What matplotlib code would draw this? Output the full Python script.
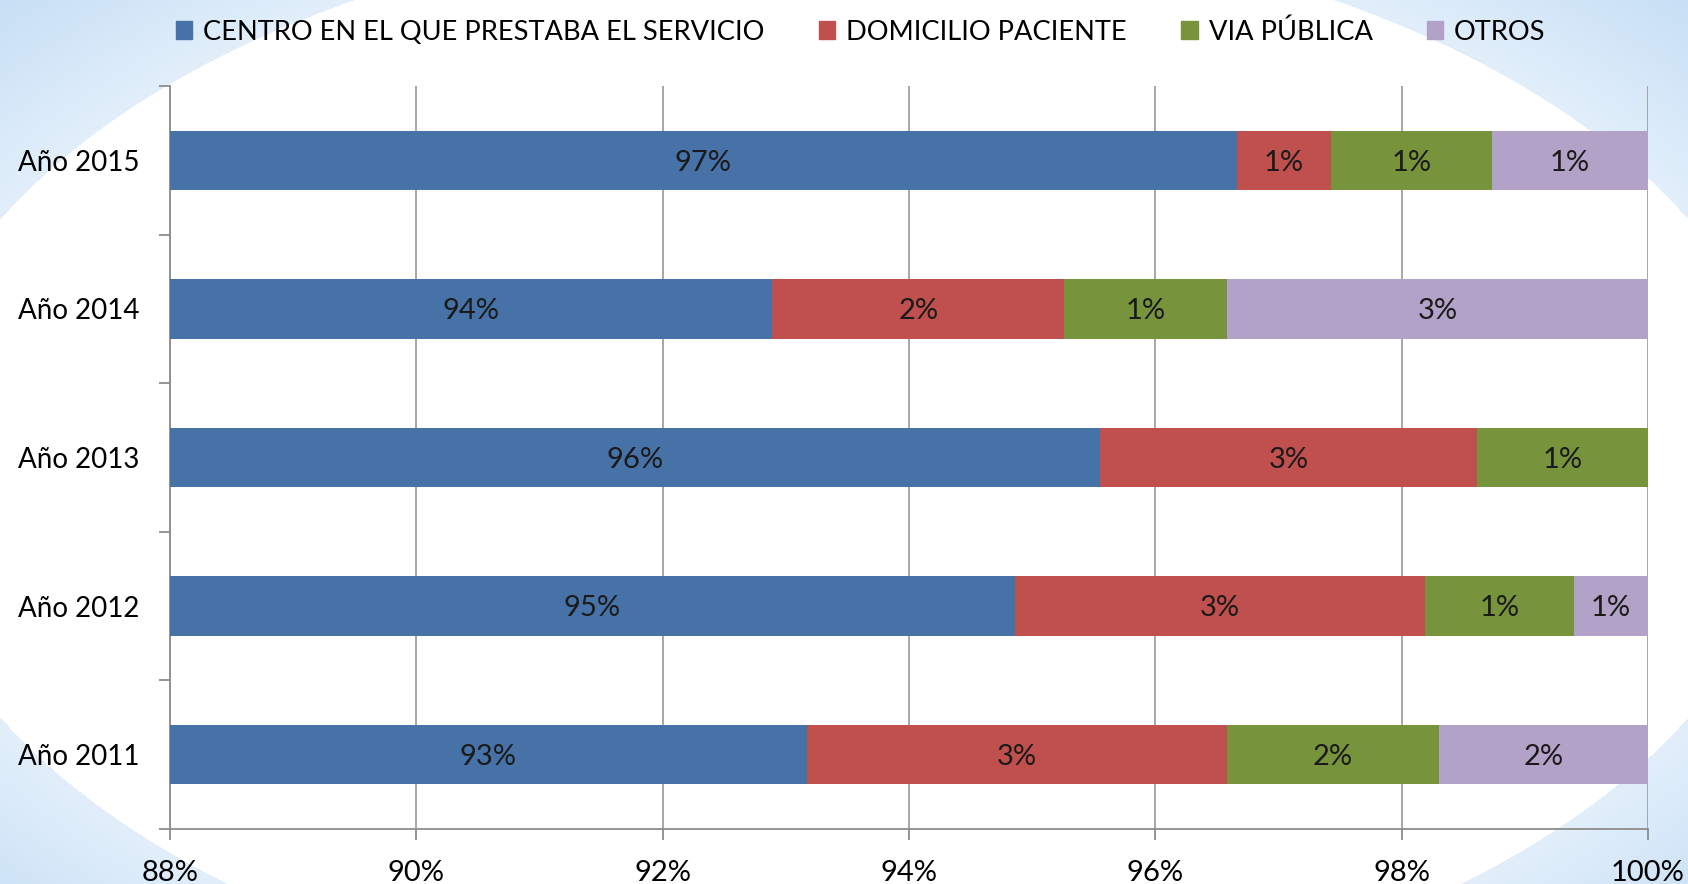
import matplotlib
matplotlib.use("Agg")
import matplotlib.pyplot as plt
from matplotlib.patches import Patch
import numpy as np

# fonts: Calibri is not available, Lato is the closest installed
plt.rcParams['font.family'] = ['Lato', 'DejaVu Sans']

# data (share of each place, stacked to 100%)
years = ["Año 2011", "Año 2012", "Año 2013", "Año 2014", "Año 2015"]
series_names = ["CENTRO EN EL QUE PRESTABA EL SERVICIO", "DOMICILIO PACIENTE",
                "VIA PÚBLICA", "OTROS"]
centro = [93.17, 94.86, 95.55, 92.89, 96.66]
domicilio = [3.41, 3.33, 3.06, 2.37, 0.77]
via_publica = [1.72, 1.21, 1.39, 1.32, 1.30]
otros = [1.70, 0.60, 0.00, 3.42, 1.27]
# labels as printed in the chart
centro_lbl = ["93%", "95%", "96%", "94%", "97%"]
domicilio_lbl = ["3%", "3%", "3%", "2%", "1%"]
via_lbl = ["2%", "1%", "1%", "1%", "1%"]
otros_lbl = ["2%", "1%", "", "3%", "1%"]
xticks = [88, 90, 92, 94, 96, 98, 100]
xmin, xmax = 88, 100

colors = ["#4672a8", "#c0504d", "#77933c", "#b3a2c7"]

W, H = 1688, 884
fig = plt.figure(figsize=(W / 100, H / 100), dpi=100)

# background: light blue corners around a big white ellipse
bg = fig.add_axes([0, 0, 1, 1], zorder=-10)
yy, xx = np.mgrid[0:H, 0:W]
r = np.sqrt(((xx - 844) / 948.0) ** 2 + ((yy - 468) / 547.0) ** 2)
t = np.clip((r - 1) / 0.35, 0, 1)[..., None]
inner = np.array([226, 239, 251]) / 255.0
outer = np.array([186, 215, 242]) / 255.0
img = np.where(r[..., None] < 1, 1.0, inner * (1 - t) + outer * t)
bg.imshow(img, aspect='auto', interpolation='bilinear')
bg.axis('off')

ax = fig.add_axes([170 / W, 1 - 829 / H, (1648 - 170) / W, (829 - 86) / H])
ax.patch.set_alpha(0)

ypos = np.arange(len(years))
stack = [centro, domicilio, via_publica, otros]
labels = [centro_lbl, domicilio_lbl, via_lbl, otros_lbl]
left = np.zeros(len(years))
for vals, lbls, col in zip(stack, labels, colors):
    vals = np.array(vals)
    ax.barh(ypos, vals, left=left, height=0.4, color=col, zorder=3)
    for i in range(len(years)):
        if lbls[i]:
            # centre the label on the visible part of the segment
            a = max(left[i], xmin)
            b = min(left[i] + vals[i], xmax)
            ax.text((a + b) / 2, ypos[i] - 0.015, lbls[i], ha='center', va='center',
                    fontsize=21, color='#1a1a1a', zorder=4)
    left = left + vals

ax.set_xlim(xmin, xmax)
ax.set_ylim(-0.5, 4.5)
ax.set_xticks(xticks)
ax.set_xticklabels([f"{v}%" for v in xticks], fontsize=21)
ax.set_yticks(ypos)
ax.set_yticklabels(years, fontsize=20)
# ticks on the left sit between the categories
ax.set_yticks(np.arange(-0.5, 5, 1), minor=True)
ax.tick_params(axis='y', which='major', length=0, pad=22)
ax.tick_params(axis='y', which='minor', length=8, width=1.3, color='#8c8c8c')
ax.tick_params(axis='x', length=8, width=1.3, color='#8c8c8c', pad=14)

ax.grid(axis='x', color='#a0a0a0', linewidth=1.3, zorder=0)
for s in ['top', 'right']:
    ax.spines[s].set_visible(False)
for s in ['left', 'bottom']:
    ax.spines[s].set_color('#8c8c8c')
    ax.spines[s].set_linewidth(1.3)

handles = [Patch(color=c) for c in colors]
fig.legend(handles, series_names, loc='upper center', bbox_to_anchor=(0.51, 1.006),
           ncol=4, frameon=False, fontsize=19.6, handlelength=0.6, handleheight=0.6,
           handletextpad=0.4, columnspacing=2.0)

fig.savefig("out.png", dpi=100)
